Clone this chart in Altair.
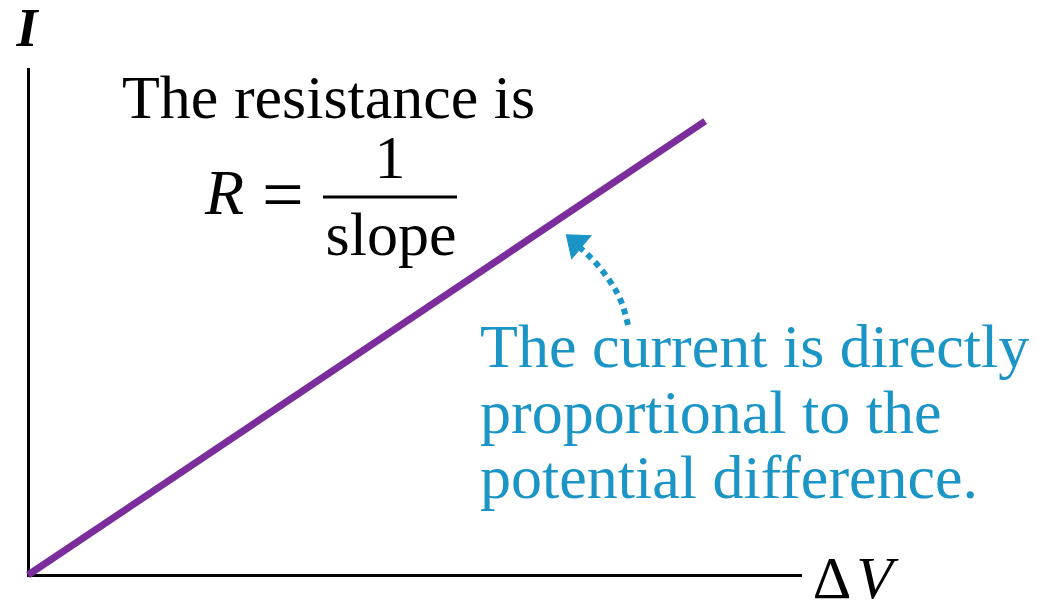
import altair as alt
import pandas as pd

# Ohmic conductor: current grows linearly with potential difference
delta_v = [0, 10]
current = [0, 10]

# Curved dotted pointer (data units) running from the caption up to the line
pointer_v = [8.86, 8.77, 8.59, 8.36, 8.12]
pointer_i = [5.51, 6.06, 6.50, 6.94, 7.25]
head_v = [8.06]
head_i = [7.36]

# Caption lines
black_lines = ["The resistance is"]
blue_lines = ["The current is directly", "proportional to the", "potential difference."]

PURPLE = "#7b2d9b"
BLUE = "#1b95c5"
SERIF = "Liberation Serif"

X_DOMAIN = [0, 11.4]
Y_DOMAIN = [0, 11.15]

xs = alt.Scale(domain=X_DOMAIN, nice=False, zero=False)
ys = alt.Scale(domain=Y_DOMAIN, nice=False, zero=False)

line_df = pd.DataFrame({"dv": delta_v, "i": current})

base_axes = alt.Chart(line_df).mark_line(
    color=PURPLE, strokeWidth=7, strokeCap="butt"
).encode(
    x=alt.X("dv:Q", scale=xs, axis=alt.Axis(title=None, labels=False, ticks=False, grid=False,
                                             domainColor="black", domainWidth=3, domainCap="square")),
    y=alt.Y("i:Q", scale=ys, axis=alt.Axis(title=None, labels=False, ticks=False, grid=False,
                                            domainColor="black", domainWidth=3, domainCap="square")),
)

# Axis symbols
axis_labels = pd.DataFrame({
    "x": [-0.015, 11.59, 12.23],
    "y": [11.66, -0.507, -0.507],
    "t": ["I", "Δ", "V"],
})
i_label = alt.Chart(axis_labels.iloc[[0]]).mark_text(
    font=SERIF, fontSize=54, fontStyle="italic", fontWeight="bold", align="center",
    baseline="alphabetic", color="black"
).encode(x=alt.X("x:Q", scale=xs), y=alt.Y("y:Q", scale=ys), text="t:N")
delta_label = alt.Chart(axis_labels.iloc[[1]]).mark_text(
    font=SERIF, fontSize=60, align="left", baseline="alphabetic", color="black"
).encode(x=alt.X("x:Q", scale=xs), y=alt.Y("y:Q", scale=ys), text="t:N")
v_label = alt.Chart(axis_labels.iloc[[2]]).mark_text(
    font=SERIF, fontSize=60, fontStyle="italic", align="left", baseline="alphabetic", color="black"
).encode(x=alt.X("x:Q", scale=xs), y=alt.Y("y:Q", scale=ys), text="t:N")

# "The resistance is  R = 1 / slope"
res_df = pd.DataFrame({"x": [1.388], "y": [10.07], "t": black_lines})
res_text = alt.Chart(res_df).mark_text(
    font=SERIF, fontSize=62, align="left", baseline="alphabetic", color="black"
).encode(x=alt.X("x:Q", scale=xs), y=alt.Y("y:Q", scale=ys), text="t:N")

r_df = pd.DataFrame({"x": [2.614], "y": [7.955], "t": ["R"]})
r_text = alt.Chart(r_df).mark_text(
    font=SERIF, fontSize=64, fontStyle="italic", align="left", baseline="alphabetic", color="black"
).encode(x=alt.X("x:Q", scale=xs), y=alt.Y("y:Q", scale=ys), text="t:N")

eq_df = pd.DataFrame({"x": [3.765], "y": [7.85], "t": ["="]})
eq_text = alt.Chart(eq_df).mark_text(
    font=SERIF, fontSize=74, align="center", baseline="alphabetic", color="black"
).encode(x=alt.X("x:Q", scale=xs), y=alt.Y("y:Q", scale=ys), text="t:N")

frac_df = pd.DataFrame({"x": [5.346, 5.36], "y": [8.748, 7.05], "t": ["1", "slope"]})
frac_text = alt.Chart(frac_df).mark_text(
    font=SERIF, fontSize=62, align="center", baseline="alphabetic", color="black"
).encode(x=alt.X("x:Q", scale=xs), y=alt.Y("y:Q", scale=ys), text="t:N")

bar_df = pd.DataFrame({"x": [4.356], "x2": [6.335], "y": [8.33]})
frac_bar = alt.Chart(bar_df).mark_rule(color="black", strokeWidth=3).encode(
    x=alt.X("x:Q", scale=xs), x2="x2:Q", y=alt.Y("y:Q", scale=ys)
)

# Blue caption
blue_df = pd.DataFrame({"x": [6.675] * 3, "y": [4.584, 3.129, 1.697], "t": blue_lines})
blue_text = alt.Chart(blue_df).mark_text(
    font=SERIF, fontSize=62, align="left", baseline="alphabetic", color=BLUE
).encode(x=alt.X("x:Q", scale=xs), y=alt.Y("y:Q", scale=ys), text="t:N")

# Dotted curved pointer with arrowhead
ptr_df = pd.DataFrame({"x": pointer_v, "y": pointer_i, "k": list(range(len(pointer_v)))})
pointer = alt.Chart(ptr_df).mark_line(
    color=BLUE, strokeWidth=6, strokeDash=[6, 5], strokeCap="butt", interpolate="basis"
).encode(x=alt.X("x:Q", scale=xs), y=alt.Y("y:Q", scale=ys), order="k:Q")

head_df = pd.DataFrame({"x": head_v, "y": head_i})
head = alt.Chart(head_df).mark_point(
    shape="M0,-0.65 L1,0.65 L-1,0.65 Z", filled=True, fill=BLUE, stroke=BLUE, strokeWidth=1,
    size=900, angle=310, opacity=1
).encode(x=alt.X("x:Q", scale=xs), y=alt.Y("y:Q", scale=ys))

chart = alt.layer(
    base_axes, frac_bar, pointer, head, i_label, delta_label, v_label,
    res_text, r_text, eq_text, frac_text, blue_text
).properties(
    width=772, height=506,
    padding={"left": 28, "top": 69, "right": 245, "bottom": 26},
    autosize="none", background="white"
).configure_view(stroke=None)

chart.save("out.html", embed_options={"renderer": "svg", "actions": False})
